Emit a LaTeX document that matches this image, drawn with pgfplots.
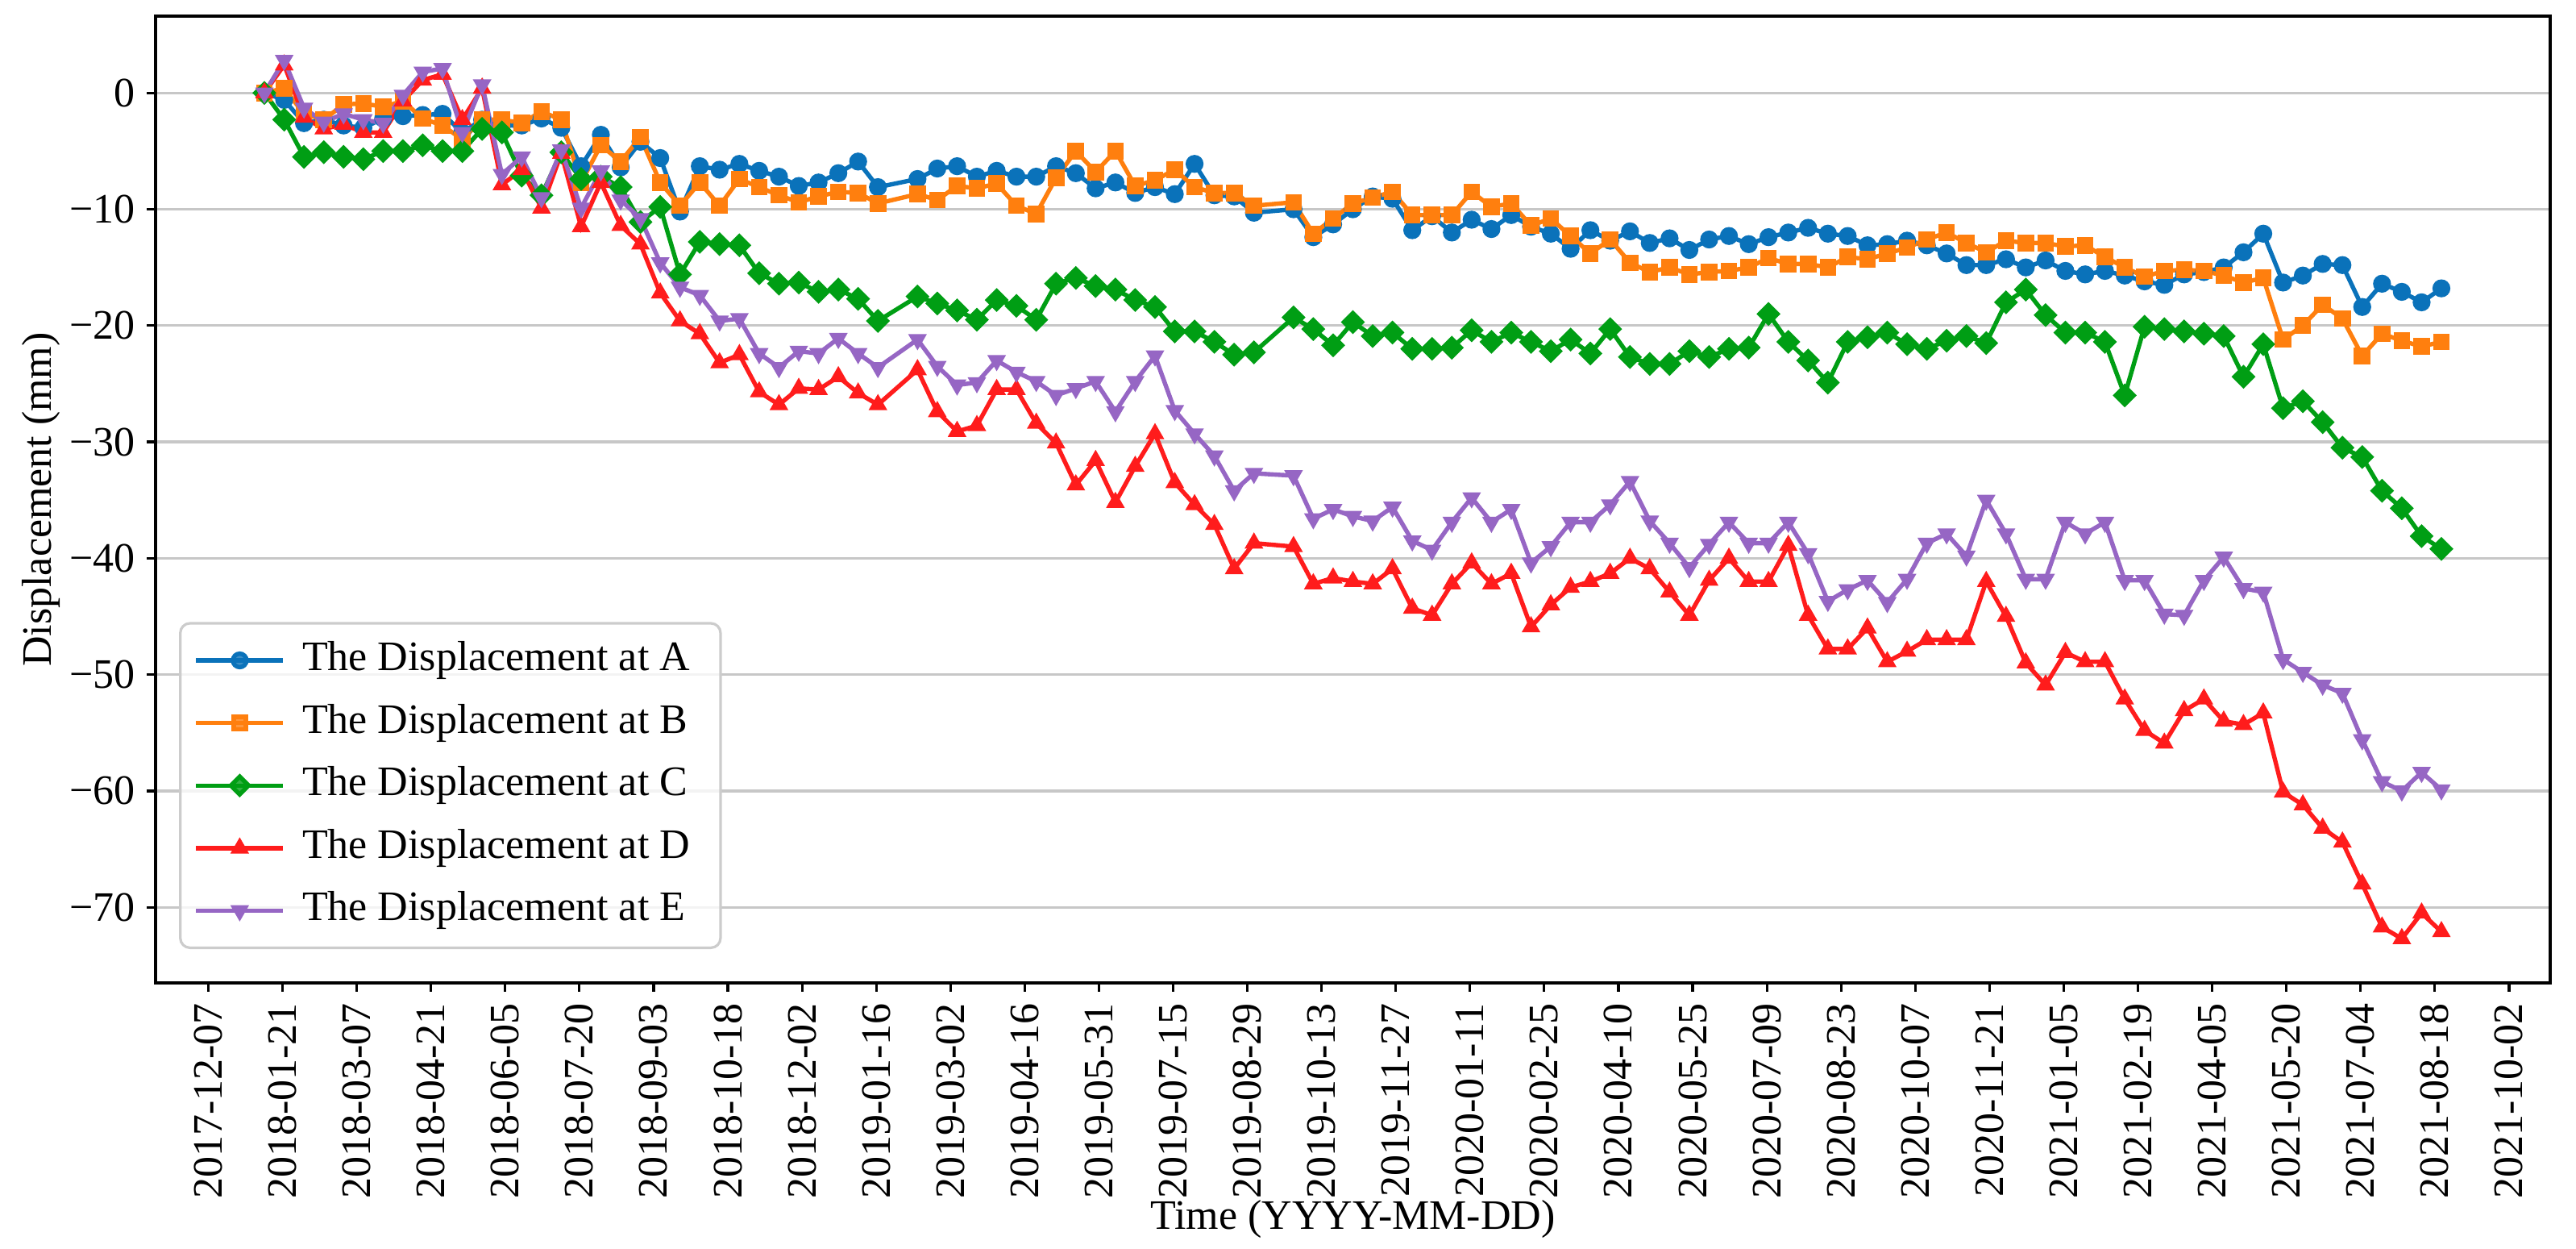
\documentclass[border=0pt]{standalone}
\usepackage{pgfplots}
\usepackage{pgfplotstable}
\usepackage{fontspec}
\setmainfont{Liberation Serif}
\pgfplotsset{compat=1.18}

\definecolor{cA}{RGB}{10,114,186}
\definecolor{cB}{RGB}{255,127,14}
\definecolor{cC}{RGB}{0,158,20}
\definecolor{cD}{RGB}{255,28,28}
\definecolor{cE}{RGB}{150,102,196}

\newcommand\ff{\fontsize{13pt}{15.6pt}\selectfont}

% day = days after 2017-12-07
\pgfplotstableread{
day A B C D E
34 0 0 0 0 0
46 -0.6 0.4 -2.3 2.4 2.8
58 -2.6 -1.8 -5.5 -2.1 -1.3
70 -2.3 -2.3 -5.1 -3.1 -2.5
82 -2.8 -1.0 -5.5 -2.7 -1.8
94 -3.0 -0.9 -5.7 -3.4 -2.3
106 -2.2 -1.2 -5.0 -3.4 -2.6
118 -2.0 -0.7 -5.0 -0.7 -0.2
130 -1.9 -2.2 -4.5 1.1 1.8
142 -1.8 -2.8 -5.0 1.6 2.1
154 -3.4 -4.0 -5.0 -2.3 -3.4
166 -2.3 -2.3 -3.1 0.4 0.7
178 -2.8 -2.3 -3.4 -7.9 -7.0
190 -2.8 -2.6 -7.1 -6.6 -5.5
202 -2.2 -1.6 -8.8 -9.9 -9.0
214 -3.0 -2.3 -5.1 -5.2 -4.9
226 -6.3 -7.7 -7.4 -11.5 -9.9
238 -3.6 -4.5 -7.2 -7.7 -6.7
250 -6.4 -5.9 -8.1 -11.4 -9.2
262 -4.2 -3.8 -11.1 -13.0 -10.8
274 -5.6 -7.7 -9.8 -17.2 -14.6
286 -10.2 -9.7 -15.6 -19.6 -16.7
298 -6.3 -7.7 -12.8 -20.7 -17.4
310 -6.6 -9.7 -13.0 -23.2 -19.6
322 -6.1 -7.4 -13.1 -22.5 -19.4
334 -6.7 -8.1 -15.5 -25.7 -22.4
346 -7.2 -8.8 -16.4 -26.8 -23.6
358 -8.0 -9.4 -16.3 -25.4 -22.2
370 -7.7 -8.9 -17.1 -25.5 -22.4
382 -6.9 -8.5 -16.9 -24.4 -21.1
394 -5.9 -8.6 -17.7 -25.8 -22.4
406 -8.1 -9.5 -19.6 -26.8 -23.6
430 -7.4 -8.7 -17.5 -23.8 -21.2
442 -6.5 -9.2 -18.1 -27.4 -23.5
454 -6.3 -8.0 -18.7 -29.1 -25.1
466 -7.2 -8.2 -19.5 -28.6 -24.9
478 -6.7 -7.8 -17.8 -25.5 -23.0
490 -7.2 -9.7 -18.3 -25.5 -24.0
502 -7.2 -10.4 -19.5 -28.4 -24.8
514 -6.3 -7.3 -16.4 -30.1 -26.0
526 -6.9 -5.0 -15.9 -33.7 -25.4
538 -8.2 -6.8 -16.6 -31.6 -24.8
550 -7.7 -5.0 -16.9 -35.2 -27.4
562 -8.6 -8.0 -17.8 -32.1 -24.8
574 -8.1 -7.5 -18.4 -29.3 -22.6
586 -8.7 -6.6 -20.5 -33.5 -27.3
598 -6.1 -8.1 -20.5 -35.4 -29.3
610 -8.8 -8.6 -21.4 -37.1 -31.2
622 -8.9 -8.6 -22.5 -40.9 -34.2
634 -10.3 -9.7 -22.3 -38.7 -32.7
658 -10.0 -9.4 -19.3 -39.0 -32.9
670 -12.4 -12.1 -20.3 -42.2 -36.6
682 -11.3 -10.8 -21.7 -41.7 -35.8
694 -10.0 -9.5 -19.7 -42.0 -36.4
706 -8.9 -9.0 -20.9 -42.2 -36.8
718 -9.1 -8.5 -20.6 -40.9 -35.6
730 -11.8 -10.5 -22.0 -44.3 -38.5
742 -10.6 -10.5 -22.0 -44.9 -39.3
754 -12.0 -10.5 -21.9 -42.2 -36.9
766 -10.9 -8.5 -20.4 -40.4 -34.8
778 -11.7 -9.8 -21.4 -42.2 -36.9
790 -10.5 -9.5 -20.6 -41.3 -35.8
802 -11.5 -11.4 -21.4 -45.9 -40.4
814 -12.1 -10.8 -22.2 -44.0 -39.0
826 -13.4 -12.3 -21.2 -42.5 -36.9
838 -11.8 -13.8 -22.4 -42.0 -36.9
850 -12.7 -12.6 -20.3 -41.3 -35.4
862 -11.9 -14.6 -22.7 -40.0 -33.4
874 -12.9 -15.4 -23.3 -40.9 -36.8
886 -12.5 -15.0 -23.3 -42.9 -38.7
898 -13.5 -15.6 -22.2 -44.9 -40.8
910 -12.6 -15.4 -22.7 -41.9 -38.8
922 -12.3 -15.3 -22.0 -40.0 -36.9
934 -13.0 -15.0 -21.9 -42.0 -38.7
946 -12.4 -14.2 -19.0 -42.0 -38.7
958 -12.0 -14.7 -21.4 -38.9 -36.9
970 -11.6 -14.7 -23.0 -44.9 -39.6
982 -12.1 -15.0 -24.9 -47.8 -43.7
994 -12.3 -14.1 -21.4 -47.8 -42.7
1006 -13.1 -14.3 -21.0 -46.0 -41.9
1018 -13.0 -13.8 -20.6 -48.9 -43.8
1030 -12.7 -13.3 -21.6 -48.0 -41.8
1042 -13.1 -12.6 -22.0 -47.0 -38.7
1054 -13.8 -12.0 -21.3 -47.0 -37.9
1066 -14.8 -12.9 -20.9 -47.0 -39.8
1078 -14.8 -13.7 -21.5 -42.0 -35.0
1090 -14.3 -12.7 -18.0 -45.0 -37.9
1102 -15.0 -12.9 -16.9 -49.0 -41.8
1114 -14.4 -12.9 -19.1 -50.9 -41.8
1126 -15.3 -13.2 -20.6 -48.1 -36.9
1138 -15.6 -13.1 -20.6 -48.9 -37.9
1150 -15.3 -14.1 -21.4 -48.9 -36.9
1162 -15.7 -15.0 -26.0 -52.1 -41.9
1174 -16.2 -15.8 -20.1 -54.8 -41.9
1186 -16.5 -15.3 -20.3 -55.9 -44.8
1198 -15.6 -15.2 -20.5 -53.1 -44.9
1210 -15.4 -15.3 -20.7 -52.1 -41.9
1222 -15.0 -15.7 -20.9 -54.0 -39.9
1234 -13.7 -16.3 -24.4 -54.3 -42.6
1246 -12.1 -15.9 -21.6 -53.3 -42.9
1258 -16.3 -21.2 -27.1 -60.1 -48.7
1270 -15.7 -20.0 -26.5 -61.2 -49.8
1282 -14.7 -18.2 -28.3 -63.2 -50.9
1294 -14.8 -19.4 -30.5 -64.4 -51.6
1306 -18.4 -22.6 -31.3 -68.0 -55.6
1318 -16.4 -20.7 -34.2 -71.7 -59.2
1330 -17.1 -21.3 -35.7 -72.7 -60.0
1342 -18.0 -21.8 -38.1 -70.5 -58.4
1354 -16.8 -21.4 -39.2 -72.1 -59.9
}\disp

\begin{document}
\begin{tikzpicture}
\path[use as bounding box] (0,0) rectangle (799pt,387.25pt);
\begin{axis}[
    at={(48.25pt,82.5pt)}, anchor=south west,
    scale only axis, width=742.75pt, height=299.75pt,
    xmin=-32, xmax=1420, ymin=-76.5, ymax=6.6,
    axis line style={line width=0.8pt},
    tick align=outside, xtick pos=bottom, ytick pos=left,
    major tick length=2.75pt,
    major tick style={line width=0.8pt, black},
    xtick={0,45,...,1395},
    xticklabels={2017-12-07,2018-01-21,2018-03-07,2018-04-21,2018-06-05,2018-07-20,2018-09-03,2018-10-18,2018-12-02,2019-01-16,2019-03-02,2019-04-16,2019-05-31,2019-07-15,2019-08-29,2019-10-13,2019-11-27,2020-01-11,2020-02-25,2020-04-10,2020-05-25,2020-07-09,2020-08-23,2020-10-07,2020-11-21,2021-01-05,2021-02-19,2021-04-05,2021-05-20,2021-07-04,2021-08-18,2021-10-02},
    ytick={-70,-60,-50,-40,-30,-20,-10,0},
    yticklabels={−70,−60,−50,−40,−30,−20,−10,0},
    tick label style={font=\ff},
    xticklabel style={rotate=90, anchor=east},
    ymajorgrids=true,
    grid style={black!22, line width=0.8pt},
    xlabel={Time (YYYY-MM-DD)},
    ylabel={Displacement (mm)},
    label style={font=\ff},
    xlabel style={at={(axis description cs:0.5,-0.2444)}, anchor=center},
    ylabel style={at={(axis description cs:-0.04786,0.5)}, anchor=center},
    every axis plot/.append style={line width=1.35pt},
    legend cell align=left,
    legend image code/.code={
        \draw[mark repeat=2, mark phase=2, #1]
            plot coordinates {(0pt,0pt) (13.5pt,0pt) (27pt,0pt)};
    },
    legend style={
        at={(0.0098,0.035)}, anchor=south west,
        font=\ff, draw=black!20, line width=0.8pt, rounded corners=3pt,
        fill=white, fill opacity=0.8, text opacity=1,
        inner xsep=4.25pt, inner ysep=5.6pt,
        row sep=7.6pt, column sep=0pt,
        nodes={inner xsep=5.25pt, inner ysep=0pt, text height=9pt, text depth=2.8pt},
    },
]
\addplot[cA, mark=*, mark size=2.1pt, mark options={solid}] table[x=day, y=A] {\disp};
\addlegendentry{The Displacement at A}
\addplot[cB, mark=square*, mark size=1.9pt, mark options={solid}] table[x=day, y=B] {\disp};
\addlegendentry{The Displacement at B}
\addplot[cC, mark=square*, mark size=1.95pt, mark options={solid, rotate=45}] table[x=day, y=C] {\disp};
\addlegendentry{The Displacement at C}
\addplot[cD, mark=triangle*, mark size=2pt, mark options={solid}] table[x=day, y=D] {\disp};
\addlegendentry{The Displacement at D}
\addplot[cE, mark=triangle*, mark size=2pt, mark options={solid, rotate=180}] table[x=day, y=E] {\disp};
\addlegendentry{The Displacement at E}
\end{axis}
\end{tikzpicture}
\end{document}
